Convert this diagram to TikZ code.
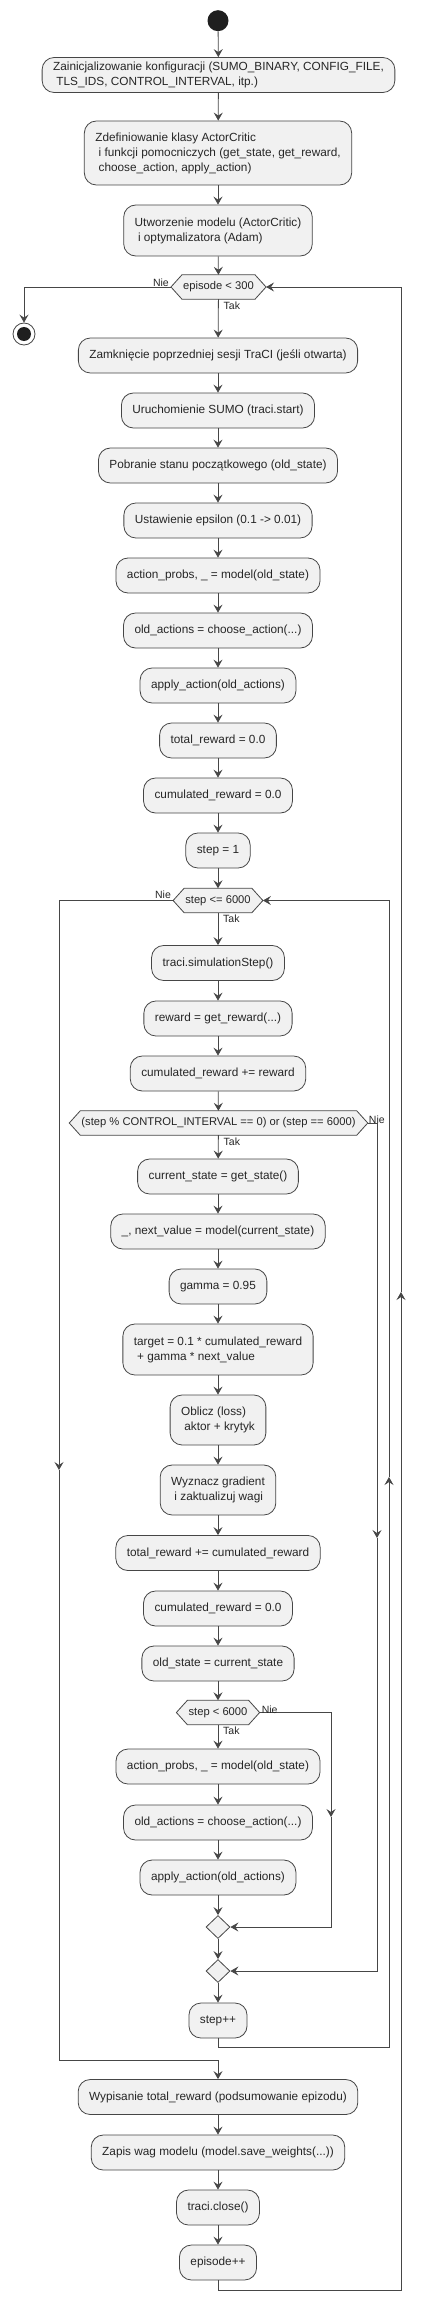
\documentclass[tikz,border=0pt]{standalone}
\usepackage{fontspec}
\setmainfont{Liberation Sans}
\usetikzlibrary{arrows.meta,shapes.geometric,calc,backgrounds}
\definecolor{boxfill}{HTML}{F1F1F1}
\definecolor{linec}{HTML}{181818}
\newcommand\ind{\hspace*{3.3pt}}
\begin{document}
\begin{tikzpicture}[x=1pt,y=-1pt,
  box/.style={draw=linec!80, fill=boxfill, rounded corners=12pt, line width=0.8pt,
    minimum height=35pt, inner xsep=11pt, inner ysep=4pt,
    font=\fontsize{11.8}{15}\selectfont, text=black!85, align=left},
  hexnode/.style={inner xsep=12pt, inner ysep=0pt, minimum height=24pt,
    font=\fontsize{11.2}{13}\selectfont, text=black!85},
  hexshape/.style={draw=linec!80, fill=boxfill, line width=0.8pt},
  merge/.style={diamond, draw=linec!80, fill=boxfill, line width=0.8pt,
    minimum width=24pt, minimum height=23pt, inner sep=0pt},
  line/.style={draw=linec!80, line width=0.8pt},
  flow/.style={line, -{Stealth[length=8pt,width=9pt,inset=3pt]}},
  lbl/.style={font=\fontsize{10.5}{12}\selectfont, inner sep=1pt, text=black!85}
]
\useasboundingbox (0,0) rectangle (427,2314);

\node[circle, fill=black!88, minimum size=21pt, inner sep=0pt] (start) at (218,20.7) {};
\node[box] (n1) at (218.5,75) {Zainicjalizowanie konfiguracji (SUMO\_BINARY, CONFIG\_FILE,\\\ind TLS\_IDS, CONTROL\_INTERVAL, itp.)};
\node[box, minimum height=64pt] (n2) at (218,153) {Zdefiniowanie klasy ActorCritic\\\ind i funkcji pomocniczych (get\_state, get\_reward,\\\ind choose\_action, apply\_action)};
\node[box, minimum height=51pt] (n3) at (218,230.5) {Utworzenie modelu (ActorCritic)\\\ind i optymalizatora (Adam)};
\node[hexnode] (d1) at (218.5,287) {episode < 300};
\node[circle, draw=linec!80, line width=0.8pt, fill=white, minimum size=22pt, inner sep=0pt] (end) at (24,334) {};
\fill[black!88] (end.center) circle (7pt);

\node[box] (n4) at (218,355.5) {Zamknięcie poprzedniej sesji TraCI (jeśli otwarta)};
\node[box] (n5) at (218,410.5) {Uruchomienie SUMO (traci.start)};
\node[box] (n6) at (218,465.5) {Pobranie stanu początkowego (old\_state)};
\node[box] (n7) at (218,520.5) {Ustawienie epsilon (0.1 -> 0.01)};
\node[box] (n8) at (218,575.5) {action\_probs, \_ = model(old\_state)};
\node[box] (n9) at (218,630.5) {old\_actions = choose\_action(...)};
\node[box] (n10) at (218,685.5) {apply\_action(old\_actions)};
\node[box] (n11) at (218,740.5) {total\_reward = 0.0};
\node[box] (n12) at (218,795.5) {cumulated\_reward = 0.0};
\node[box] (n13) at (218,850.5) {step = 1};
\node[hexnode] (d2) at (218,900.5) {step <= 6000};
\node[box] (n14) at (218,963) {traci.simulationStep()};
\node[box] (n15) at (218,1018.5) {reward = get\_reward(...)};
\node[box] (n16) at (218,1073.5) {cumulated\_reward += reward};
\node[hexnode] (d3) at (218.5,1123) {(step \% CONTROL\_INTERVAL == 0) or (step == 6000)};
\node[box] (n17) at (218,1176.5) {current\_state = get\_state()};
\node[box] (n18) at (218,1231.5) {\_, next\_value = model(current\_state)};
\node[box] (n19) at (218,1286.5) {gamma = 0.95};
\node[box, minimum height=51pt] (n20) at (218,1349.5) {target = 0.1 * cumulated\_reward\\\ind + gamma * next\_value};
\node[box, minimum height=50pt] (n21) at (218,1420) {Oblicz (loss)\\\ind aktor + krytyk};
\node[box, minimum height=50pt] (n22) at (218,1490) {Wyznacz gradient\\\ind i zaktualizuj wagi};
\node[box] (n23) at (218,1553) {total\_reward += cumulated\_reward};
\node[box] (n24) at (218,1608.5) {cumulated\_reward = 0.0};
\node[box] (n25) at (218,1663.5) {old\_state = current\_state};
\node[hexnode] (d4) at (218,1712.5) {step < 6000};
\node[box] (n26) at (218,1766.5) {action\_probs, \_ = model(old\_state)};
\node[box] (n27) at (218,1822.5) {old\_actions = choose\_action(...)};
\node[box] (n28) at (218,1877.5) {apply\_action(old\_actions)};
\node[merge] (m1) at (218,1927) {};
\node[merge] (m2) at (218,1971) {};
\node[box] (n29) at (218,2020.5) {step++};
\node[box] (n30) at (218,2097) {Wypisanie total\_reward (podsumowanie epizodu)};
\node[box] (n31) at (218,2152.5) {Zapis wag modelu (model.save\_weights(...))};
\node[box] (n32) at (218,2207.5) {traci.close()};
\node[box] (n33) at (218,2262.5) {episode++};

\begin{scope}[on background layer]
\foreach \h in {d1,d2,d3,d4}{
  \draw[hexshape] (\h.west) -- ($(\h.north west)+(11,0)$) -- ($(\h.north east)+(-11,0)$) -- (\h.east)
    -- ($(\h.south east)+(-11,0)$) -- ($(\h.south west)+(11,0)$) -- cycle;
}
\end{scope}

% straight flow
\draw[flow] (start) -- (n1);
\draw[flow] (n1) -- (n2);
\draw[flow] (n2) -- (n3);
\draw[flow] (n3) -- (d1);
\draw[flow] (d1) -- (n4);
\draw[flow] (n4) -- (n5);
\draw[flow] (n5) -- (n6);
\draw[flow] (n6) -- (n7);
\draw[flow] (n7) -- (n8);
\draw[flow] (n8) -- (n9);
\draw[flow] (n9) -- (n10);
\draw[flow] (n10) -- (n11);
\draw[flow] (n11) -- (n12);
\draw[flow] (n12) -- (n13);
\draw[flow] (n13) -- (d2);
\draw[flow] (d2) -- (n14);
\draw[flow] (n14) -- (n15);
\draw[flow] (n15) -- (n16);
\draw[flow] (n16) -- (d3);
\draw[flow] (d3) -- (n17);
\draw[flow] (n17) -- (n18);
\draw[flow] (n18) -- (n19);
\draw[flow] (n19) -- (n20);
\draw[flow] (n20) -- (n21);
\draw[flow] (n21) -- (n22);
\draw[flow] (n22) -- (n23);
\draw[flow] (n23) -- (n24);
\draw[flow] (n24) -- (n25);
\draw[flow] (n25) -- (d4);
\draw[flow] (d4) -- (n26);
\draw[flow] (n26) -- (n27);
\draw[flow] (n27) -- (n28);
\draw[flow] (n28) -- (m1);
\draw[flow] (m1) -- (m2);
\draw[flow] (m2) -- (n29);
\draw[flow] (n30) -- (n31);
\draw[flow] (n31) -- (n32);
\draw[flow] (n32) -- (n33);

% episode loop exit
\coordinate (Ea) at (24,287);
\draw[flow] (d1.west) -- (Ea) -- (end.north);

% step loop exit (left)
\coordinate (La) at (59,900.5);
\coordinate (Lm) at (59,1470);
\coordinate (Lb) at (59,2060);
\coordinate (Lc) at (218,2060);
\draw[flow] (d2.west) -- (La) -- (Lm);
\draw[flow] (Lm) -- (Lb) -- (Lc) -- (n30.north);

% condition "Nie"
\coordinate (Na) at (377,1123);
\coordinate (Nm) at (377,1538);
\coordinate (Nb) at (377,1971);
\draw[flow] (d3.east) -- (Na) -- (Nm);
\draw[flow] (Nm) -- (Nb) -- (m2.east);

% step < 6000 "Nie"
\coordinate (Ma) at (331,1712.5);
\coordinate (Mm) at (331,1817);
\coordinate (Mb) at (331,1927);
\draw[flow] (d4.east) -- (Ma) -- (Mm);
\draw[flow] (Mm) -- (Mb) -- (m1.east);

% step loop back
\coordinate (Ra) at (218,2047);
\coordinate (Rb) at (389,2047);
\coordinate (Rm) at (389,1477);
\coordinate (Rc) at (389,900.5);
\draw[flow] (n29.south) -- (Ra) -- (Rb) -- (Rm);
\draw[flow] (Rm) -- (Rc) -- (d2.east);

% episode loop back
\coordinate (Oa) at (218,2290);
\coordinate (Ob) at (401,2290);
\coordinate (Om) at (401,1292);
\coordinate (Oc) at (401,287);
\draw[flow] (n33.south) -- (Oa) -- (Ob) -- (Om);
\draw[flow] (Om) -- (Oc) -- (d1.east);

% labels
\node[lbl, anchor=south east] (l1) at ($(d1.west)+(-1,1)$) {Nie};
\node[lbl, anchor=north west] (l2) at ($(d1.south)+(4,1)$) {Tak};
\node[lbl, anchor=south east] (l3) at ($(d2.west)+(-1,-1)$) {Nie};
\node[lbl, anchor=north west] (l4) at ($(d2.south)+(4,1)$) {Tak};
\node[lbl, anchor=south west] (l5) at ($(d3.east)+(0,2)$) {Nie};
\node[lbl, anchor=north west] (l6) at ($(d3.south)+(4,1)$) {Tak};
\node[lbl, anchor=south west] (l7) at ($(d4.east)+(1,2)$) {Nie};
\node[lbl, anchor=north west] (l8) at ($(d4.south)+(4,1)$) {Tak};
\end{tikzpicture}
\end{document}
